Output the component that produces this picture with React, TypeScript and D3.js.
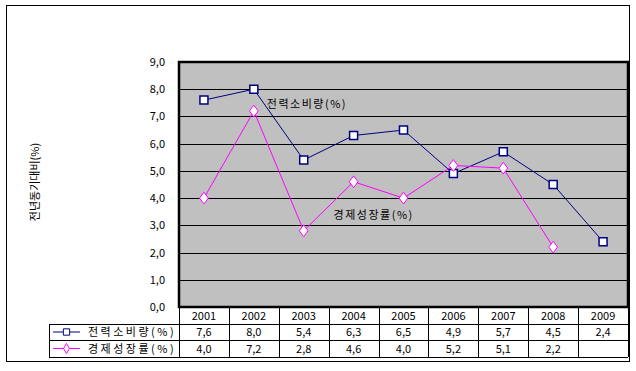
import * as d3 from 'd3';
import { useEffect, useRef } from 'react';

const years = ['2001', '2002', '2003', '2004', '2005', '2006', '2007', '2008', '2009'];
const powerName = '전력소비량(%)';
const growthName = '경제성장률(%)';
const powerValues = [7.6, 8.0, 5.4, 6.3, 6.5, 4.9, 5.7, 4.5, 2.4];
const growthValues = [4.0, 7.2, 2.8, 4.6, 4.0, 5.2, 5.1, 2.2];
const yTicks = [0, 1, 2, 3, 4, 5, 6, 7, 8, 9];
const yTitle = '전년동기대비(%)';

const FONT = '"Noto Sans CJK KR", "DejaVu Sans", sans-serif';
const fmt = (v: number) => v.toFixed(1).replace('.', ',');

export default function App() {
    const svgRef = useRef<SVGSVGElement>(null);

    useEffect(() => {
        if (!svgRef.current) return;
        const width = 636;
        const height = 371;
        const plot = { left: 179, right: 628, top: 62, bottom: 307 };
        const rowY = [307, 324, 340, 357];
        const tableLeft = 49;
        const navy = '#000080';
        const magenta = '#ff00ff';

        const svg = d3.select(svgRef.current).attr('width', width).attr('height', height);
        svg.selectAll('*').remove();

        const x = d3.scaleBand<string>().domain(years).range([plot.left, plot.right]);
        const y = d3.scaleLinear().domain([0, 9]).range([plot.bottom, plot.top]);
        const cx = (d: string) => x(d)! + x.bandwidth() / 2;

        // outer frame
        svg.append('rect')
            .attr('x', 6.5).attr('y', 5.5).attr('width', 623).attr('height', 356)
            .attr('fill', '#fff').attr('stroke', '#000');

        // plot background + grid
        svg.append('rect')
            .attr('x', plot.left).attr('y', plot.top)
            .attr('width', plot.right - plot.left).attr('height', plot.bottom - plot.top)
            .attr('fill', '#c0c0c0');

        svg.append('g')
            .selectAll('line')
            .data(yTicks.slice(1, -1))
            .join('line')
            .attr('x1', plot.left).attr('x2', plot.right)
            .attr('y1', (d) => Math.round(y(d)) + 0.5).attr('y2', (d) => Math.round(y(d)) + 0.5)
            .attr('stroke', '#000');

        svg.append('rect')
            .attr('x', plot.left).attr('y', plot.top)
            .attr('width', plot.right - plot.left).attr('height', plot.bottom - plot.top)
            .attr('fill', 'none').attr('stroke', '#000').attr('stroke-width', 2.5);

        // y tick labels
        svg.append('g')
            .selectAll('text')
            .data(yTicks)
            .join('text')
            .attr('x', 165).attr('y', (d) => y(d) + 4)
            .attr('text-anchor', 'end')
            .attr('font-family', FONT).attr('font-size', 11)
            .text((d) => fmt(d));

        // y title
        svg.append('text')
            .attr('transform', 'translate(39,182) rotate(-90)')
            .attr('text-anchor', 'middle')
            .attr('font-family', FONT).attr('font-size', 11)
            .text(yTitle);

        // table grid
        const tg = svg.append('g').attr('stroke', '#000').attr('shape-rendering', 'crispEdges');
        tg.selectAll('line.h')
            .data(rowY.slice(1))
            .join('line')
            .attr('x1', tableLeft).attr('x2', plot.right)
            .attr('y1', (d) => d + 0.5).attr('y2', (d) => d + 0.5);
        tg.append('line')
            .attr('x1', tableLeft + 0.5).attr('x2', tableLeft + 0.5)
            .attr('y1', rowY[1]).attr('y2', rowY[3]);
        tg.selectAll('line.v')
            .data(years.concat(['end']))
            .join('line')
            .attr('x1', (d, i) => Math.round(plot.left + i * x.bandwidth()) + 0.5)
            .attr('x2', (d, i) => Math.round(plot.left + i * x.bandwidth()) + 0.5)
            .attr('y1', rowY[0]).attr('y2', rowY[3]);

        const tableText = (yy: number, vals: (number | string)[]) =>
            svg.append('g')
                .selectAll('text')
                .data(vals)
                .join('text')
                .attr('x', (d, i) => cx(years[i]))
                .attr('y', yy)
                .attr('text-anchor', 'middle')
                .attr('font-family', FONT).attr('font-size', 11)
                .text((d) => (typeof d === 'number' ? fmt(d) : d));

        tableText(rowY[1] - 4, years);
        tableText(rowY[2] - 4, powerValues);
        tableText(rowY[3] - 4, growthValues);

        // legend keys in table
        const keys = [
            { name: powerName, color: navy, shape: d3.symbolSquare, size: 40, yy: (rowY[1] + rowY[2]) / 2 },
            { name: growthName, color: magenta, shape: d3.symbolDiamond, size: 30, yy: (rowY[2] + rowY[3]) / 2 },
        ];
        keys.forEach((k) => {
            svg.append('line')
                .attr('x1', 53).attr('x2', 80).attr('y1', k.yy).attr('y2', k.yy)
                .attr('stroke', k.color);
            svg.append('path')
                .attr('d', d3.symbol(k.shape, k.size)()!)
                .attr('transform', `translate(66.5,${k.yy})`)
                .attr('fill', '#fff').attr('stroke', k.color);
            svg.append('text')
                .attr('x', 88).attr('y', k.yy + 4)
                .attr('font-family', FONT).attr('font-size', 11)
                .attr('letter-spacing', 2.5)
                .text(k.name);
        });

        // series lines
        const line = d3.line<number>().x((d, i) => cx(years[i])).y((d) => y(d));
        svg.append('path').datum(powerValues).attr('d', line).attr('fill', 'none').attr('stroke', navy);
        svg.append('path').datum(growthValues).attr('d', line).attr('fill', 'none').attr('stroke', magenta);

        svg.append('g')
            .selectAll('path')
            .data(powerValues)
            .join('path')
            .attr('d', d3.symbol(d3.symbolSquare, 64)()!)
            .attr('transform', (d, i) => `translate(${cx(years[i])},${y(d)})`)
            .attr('fill', '#fff').attr('stroke', navy).attr('stroke-width', 1.5);

        svg.append('g')
            .selectAll('path')
            .data(growthValues)
            .join('path')
            .attr('d', d3.symbol(d3.symbolDiamond, 40)()!)
            .attr('transform', (d, i) => `translate(${cx(years[i])},${y(d)}) scale(1.3,1)`)
            .attr('fill', '#fff').attr('stroke', magenta).attr('vector-effect', 'non-scaling-stroke');

        // series labels
        svg.append('text')
            .attr('x', cx(years[1]) + 13).attr('y', y(powerValues[1]) + 19)
            .attr('font-family', FONT).attr('font-size', 11).attr('letter-spacing', 1.5)
            .text(powerName);
        svg.append('text')
            .attr('x', cx(years[3]) - 20).attr('y', y(3.2) - 1)
            .attr('font-family', FONT).attr('font-size', 11).attr('letter-spacing', 1.5)
            .text(growthName);
    }, []);

    return (
        <div style={{ position: 'absolute', left: 0, top: 0 }}>
            <svg ref={svgRef} style={{ display: 'block' }} />
        </div>
    );
}
